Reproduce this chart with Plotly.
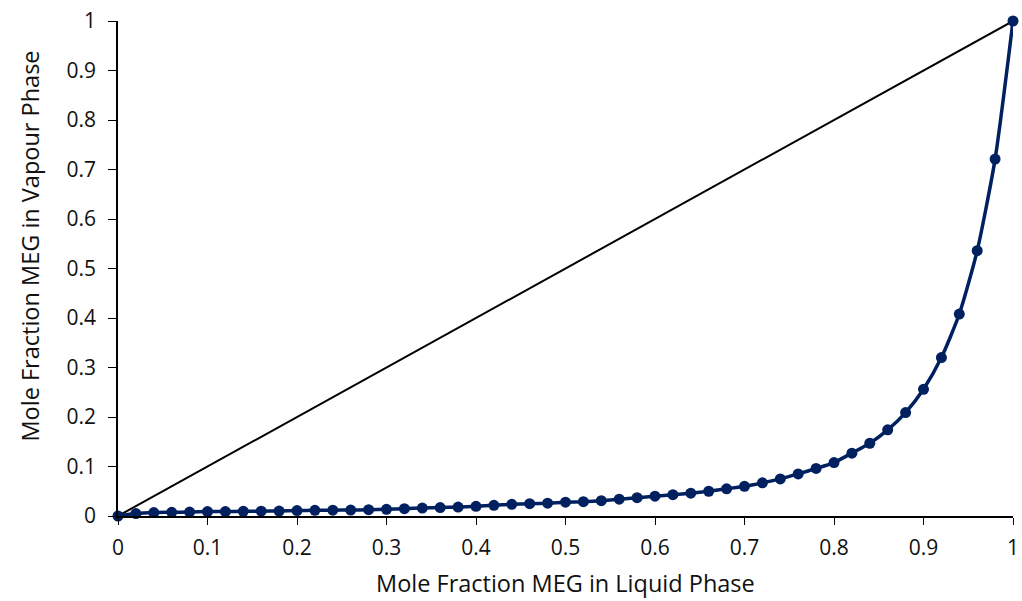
import plotly.graph_objects as go

x_liquid = [0.00, 0.02, 0.04, 0.06, 0.08, 0.10, 0.12, 0.14, 0.16, 0.18,
            0.20, 0.22, 0.24, 0.26, 0.28, 0.30, 0.32, 0.34, 0.36, 0.38,
            0.40, 0.42, 0.44, 0.46, 0.48, 0.50, 0.52, 0.54, 0.56, 0.58,
            0.60, 0.62, 0.64, 0.66, 0.68, 0.70, 0.72, 0.74, 0.76, 0.78,
            0.80, 0.82, 0.84, 0.86, 0.88, 0.90, 0.92, 0.94, 0.96, 0.98, 1.00]
y_vapour = [0.000, 0.005, 0.007, 0.0075, 0.008, 0.009, 0.009, 0.0095, 0.0098, 0.010,
            0.011, 0.0115, 0.0118, 0.012, 0.0127, 0.0135, 0.0148, 0.016, 0.017, 0.018,
            0.0195, 0.0215, 0.0235, 0.025, 0.026, 0.028, 0.029, 0.031, 0.034, 0.037,
            0.040, 0.043, 0.046, 0.050, 0.055, 0.060, 0.067, 0.075, 0.085, 0.096,
            0.108, 0.127, 0.147, 0.174, 0.209, 0.256, 0.320, 0.408, 0.536, 0.721, 1.000]

diag_x = [0, 1]
diag_y = [0, 1]

x_ticks = [0, 0.1, 0.2, 0.3, 0.4, 0.5, 0.6, 0.7, 0.8, 0.9, 1]
x_tick_labels = ["0", "0.1", "0.2", "0.3", "0.4", "0.5", "0.6", "0.7", "0.8", "0.9", "1"]
y_ticks = [0, 0.1, 0.2, 0.3, 0.4, 0.5, 0.6, 0.7, 0.8, 0.9, 1]
y_tick_labels = ["0", "0.1", "0.2", "0.3", "0.4", "0.5", "0.6", "0.7", "0.8", "0.9", "1"]

x_title = "Mole Fraction MEG in Liquid Phase"
y_title = "Mole Fraction MEG in Vapour Phase"

navy = "#002060"

fig = go.Figure()
fig.add_trace(go.Scatter(x=diag_x, y=diag_y, mode="lines",
                         line=dict(color="black", width=2), cliponaxis=False,
                         showlegend=False))
fig.add_trace(go.Scatter(x=x_liquid, y=y_vapour, mode="lines+markers",
                         line=dict(color=navy, width=3.5, shape="spline", smoothing=0.6),
                         marker=dict(color=navy, size=11, symbol="circle"),
                         cliponaxis=False, showlegend=False))

font_family = "Open Sans, Liberation Sans, sans-serif"
fig.update_layout(
    width=1022, height=601,
    margin=dict(l=118, r=9, t=21, b=85),
    paper_bgcolor="white", plot_bgcolor="white",
    font=dict(family=font_family, color="#111111", size=21),
    xaxis=dict(range=[0, 1], tickvals=x_ticks, ticktext=x_tick_labels,
               showgrid=False, zeroline=False, showline=True, linecolor="black",
               linewidth=1.5, ticks="outside", ticklen=7, tickcolor="black",
               tickfont=dict(size=21), ticklabelstandoff=5, automargin=False),
    yaxis=dict(range=[0, 1], tickvals=y_ticks, ticktext=y_tick_labels,
               showgrid=False, zeroline=False, showline=True, linecolor="black",
               linewidth=1.5, ticks="outside", ticklen=8, tickcolor="black",
               tickfont=dict(size=21), ticklabelstandoff=8, automargin=False),
    annotations=[
        dict(text=x_title, xref="paper", yref="paper", x=0.5, y=-0.135,
             xanchor="center", yanchor="middle", showarrow=False,
             font=dict(size=23.5, color="#111111")),
        dict(text=y_title, xref="paper", yref="paper", x=-0.098, y=0.545,
             xanchor="center", yanchor="middle", showarrow=False, textangle=-90,
             font=dict(size=23.5, color="#111111")),
    ],
)

fig.write_html("out.html")
